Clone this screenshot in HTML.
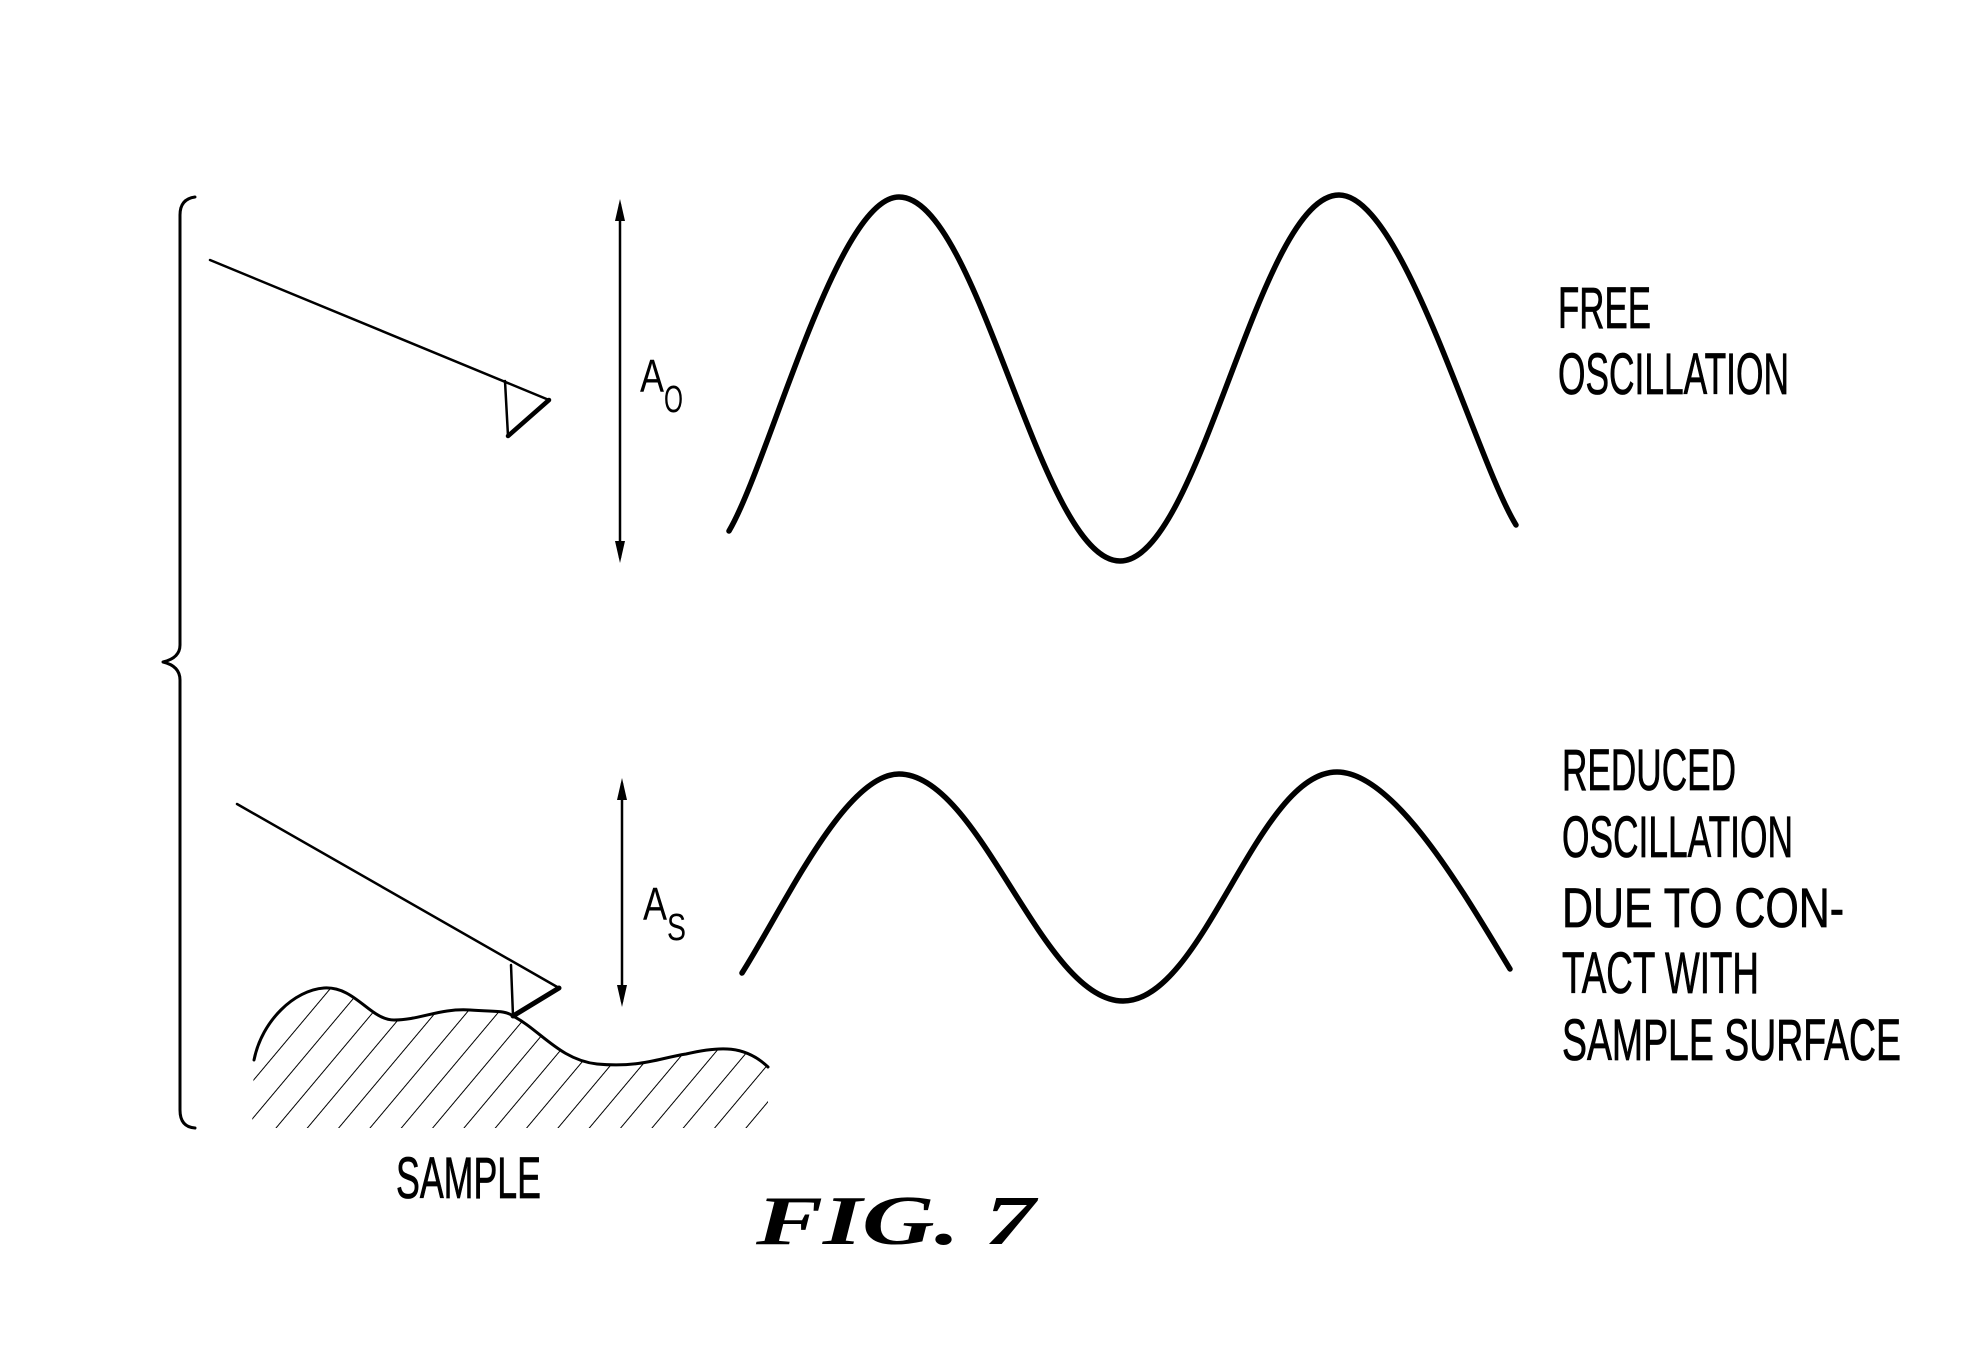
<!DOCTYPE html>
<html><head><meta charset="utf-8"><style>
html,body{margin:0;padding:0;background:#fff;}
svg{display:block;}
text{font-family:"Liberation Sans",sans-serif;fill:#000;}
</style></head><body>
<svg width="1980" height="1370" viewBox="0 0 1980 1370" xmlns="http://www.w3.org/2000/svg">
<defs>
<pattern id="h" width="24" height="24" patternUnits="userSpaceOnUse" patternTransform="rotate(40)">
<line x1="0" y1="0" x2="0" y2="24" stroke="#000" stroke-width="2"/>
</pattern>
<clipPath id="c"><path d="M254,1060 C262,1020 295,990 324,988 C355,986 370,1020 394,1020 C420,1020 440,1008 470,1010 C495,1012 505,1010 513,1016 C540,1030 560,1060 597,1064 C640,1068 660,1058 686,1054 C720,1046 745,1045 768,1067 L768,1128 L252,1128 Z"/></clipPath>
</defs>
<g fill="none" stroke="#000" stroke-linecap="round" stroke-linejoin="round">
<path d="M195,197 Q180,199 180,215 L180,645 Q180,658 163,662 Q180,666 180,680 L180,1110 Q180,1127 195,1128" stroke-width="3"/>
<line x1="210" y1="260" x2="549" y2="400" stroke-width="2.5"/>
<path d="M505,381 L508,436" stroke-width="2.5"/>
<path d="M508,436 L549,400" stroke-width="4.5"/>
<line x1="237" y1="804" x2="559" y2="988" stroke-width="2.5"/>
<path d="M511,965 L513,1016" stroke-width="2.5"/>
<path d="M513,1016 L559,988" stroke-width="5"/>
<line x1="620" y1="205" x2="620" y2="557" stroke-width="2.5"/>
<line x1="622" y1="784" x2="622" y2="1001" stroke-width="2.5"/>
<g transform="translate(-5,-2)">
<path d="M734,533 C774,465 842,199 904,199 C984,199 1045,563 1125,563 C1205,563 1264,197 1344,197 C1408,197 1480,460 1521,527" stroke-width="5.5"/>
</g>
<g transform="translate(-5,-5)">
<path d="M747,978 C790,910 850,779 904,779 C985,779 1047,1006 1128,1006 C1209,1006 1262,777 1342,777 C1400,777 1470,900 1515,974" stroke-width="5.5"/>
</g>
<rect x="240" y="980" width="540" height="150" fill="url(#h)" stroke="none" clip-path="url(#c)"/>
<path d="M254,1060 C262,1020 295,990 324,988 C355,986 370,1020 394,1020 C420,1020 440,1008 470,1010 C495,1012 505,1010 513,1016 C540,1030 560,1060 597,1064 C640,1068 660,1058 686,1054 C720,1046 745,1045 768,1067" stroke-width="3"/>
</g>
<g fill="#000">
<path d="M620,199 L615,221 L625,221 Z"/>
<path d="M620,563 L615,541 L625,541 Z"/>
<path d="M622,778 L617,800 L627,800 Z"/>
<path d="M622,1007 L617,985 L627,985 Z"/>
</g>
<text x="640" y="392" font-size="46" textLength="24" lengthAdjust="spacingAndGlyphs">A</text>
<text x="664" y="412" font-size="38" textLength="19" lengthAdjust="spacingAndGlyphs">O</text>
<text x="643" y="920" font-size="46" textLength="24" lengthAdjust="spacingAndGlyphs">A</text>
<text x="667" y="940" font-size="38" textLength="19" lengthAdjust="spacingAndGlyphs">S</text>
<g font-size="58" stroke="#000" stroke-width="0.8">
<text x="1558" y="328" textLength="93" lengthAdjust="spacingAndGlyphs">FREE</text>
<text x="1558" y="394" textLength="231" lengthAdjust="spacingAndGlyphs">OSCILLATION</text>
<text x="1562" y="790" textLength="174" lengthAdjust="spacingAndGlyphs">REDUCED</text>
<text x="1562" y="857" textLength="231" lengthAdjust="spacingAndGlyphs">OSCILLATION</text>
<text x="1562" y="927" font-size="56" textLength="282" lengthAdjust="spacingAndGlyphs">DUE TO CON-</text>
<text x="1562" y="993" textLength="197" lengthAdjust="spacingAndGlyphs">TACT WITH</text>
<text x="1562" y="1060" textLength="339" lengthAdjust="spacingAndGlyphs">SAMPLE SURFACE</text>
<text x="396" y="1198" textLength="145" lengthAdjust="spacingAndGlyphs">SAMPLE</text>
</g>
<text x="756" y="1244" font-size="70" font-style="italic" font-weight="bold" style="font-family:'Liberation Serif',serif" textLength="279" lengthAdjust="spacingAndGlyphs">FIG. 7</text>
</svg>
</body></html>
